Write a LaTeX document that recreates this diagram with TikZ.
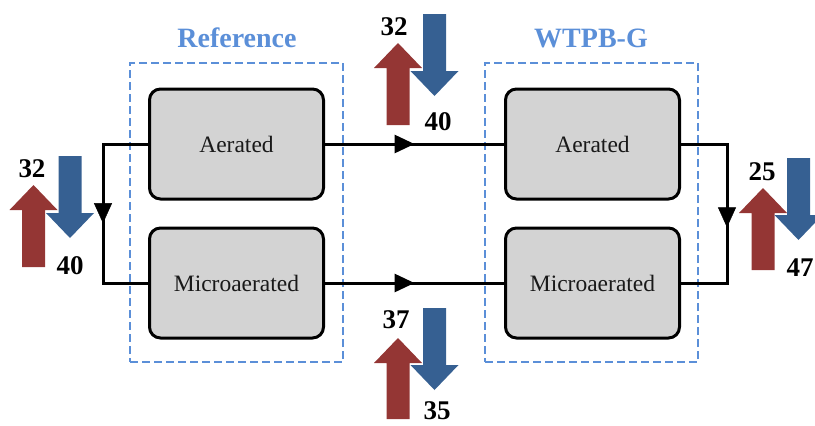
\documentclass[tikz,border=0pt]{standalone}
\usepackage{fontspec}
\setmainfont{Liberation Serif}
\usetikzlibrary{arrows.meta,decorations.markings}

\definecolor{flowred}{HTML}{943634}
\definecolor{flowblue}{HTML}{366092}
\definecolor{groupblue}{HTML}{5B8FD8}
\definecolor{boxgray}{HTML}{D3D3D3}

% red arrow pointing up: centre x, bottom y, head base y, tip y
\newcommand{\RedUp}[4]{%
  \fill[flowred] ({#1-11.5},#2) -- ({#1-11.5},#3) -- ({#1-24},#3) -- (#1,#4)
    -- ({#1+24},#3) -- ({#1+11.5},#3) -- ({#1+11.5},#2) -- cycle;}
% blue arrow pointing down: centre x, top y, head base y, tip y
\newcommand{\BlueDown}[4]{%
  \fill[flowblue] ({#1-11.5},#2) -- ({#1-11.5},#3) -- ({#1-24},#3) -- (#1,#4)
    -- ({#1+24},#3) -- ({#1+11.5},#3) -- ({#1+11.5},#2) -- cycle;}

\tikzset{
  reactor/.style={draw=black, line width=3pt, fill=boxgray, rounded corners=11pt,
    minimum width=174pt, minimum height=110pt, inner sep=0pt,
    font=\fontsize{23.5}{25}\selectfont, text=black!90},
  group/.style={draw=groupblue, line width=2.5pt, dash pattern=on 8pt off 4pt,
    minimum width=213pt, minimum height=299pt, inner sep=0pt},
  grouptitle/.style={text=groupblue, font=\fontsize{28}{30}\selectfont\bfseries},
  flow/.style={draw=black, line width=3pt, line join=miter},
  value/.style={font=\fontsize{27}{29}\selectfont\bfseries, inner sep=0pt},
  flowmark/.style={postaction={decorate}, decoration={markings,
    mark=at position #1 with {\arrow{Triangle[length=20pt,width=18pt]}}}}
}

\begin{document}
\begin{tikzpicture}[x=1pt,y=-1pt]
\useasboundingbox (0,0) rectangle (815,426);

% dashed groups and their titles
\node[group] (refgrp) at (236.5,212.5) {};
\node[group] (wtpgrp) at (591.5,212.5) {};
\node[grouptitle] (reftitle) at (237,38) {Reference};
\node[grouptitle] (wtptitle) at (591,38) {WTPB-G};

% reactors
\node[reactor] (ra) at (236.5,144) {Aerated};
\node[reactor] (rm) at (236.5,283) {Microaerated};
\node[reactor] (wa) at (592.5,144) {Aerated};
\node[reactor] (wm) at (592.5,283) {Microaerated};

% corner points of the flow loops
\coordinate (lt) at (103,144);
\coordinate (lb) at (103,283);
\coordinate (rt) at (727,144);
\coordinate (rb) at (727,283);

% connectors
\draw[flow] (ra.west) -- (lt) -- (lb) -- (rm.west);
\draw[flow] (wa.east) -- (rt) -- (rb) -- (wm.east);
\draw[flow, flowmark=0.5] (ra.east) -- (wa.west);
\draw[flow, flowmark=0.5] (rm.east) -- (wm.west);
\path[flowmark=0.57] (lt) -- (lb);
\path[flowmark=0.6] (rt) -- (rb);

% exchange arrows with their values
\RedUp{33.5}{267}{210}{185}
\BlueDown{70}{156}{213}{238}
\node[value] (v1) at (32,169) {32};
\node[value] (v2) at (70,266) {40};

\RedUp{398}{125}{68}{43}
\BlueDown{434.5}{14}{71}{96}
\node[value] (v3) at (394,27) {32};
\node[value] (v4) at (438,122) {40};

\RedUp{398}{419}{363}{338}
\BlueDown{434.5}{308}{365}{390}
\node[value] (v5) at (396,320) {37};
\node[value] (v6) at (437,411) {35};

\RedUp{763}{270}{213}{188}
\BlueDown{798.5}{158}{215}{240}
\node[value] (v7) at (762,172) {25};
\node[value] (v8) at (800,268) {47};
\end{tikzpicture}
\end{document}
